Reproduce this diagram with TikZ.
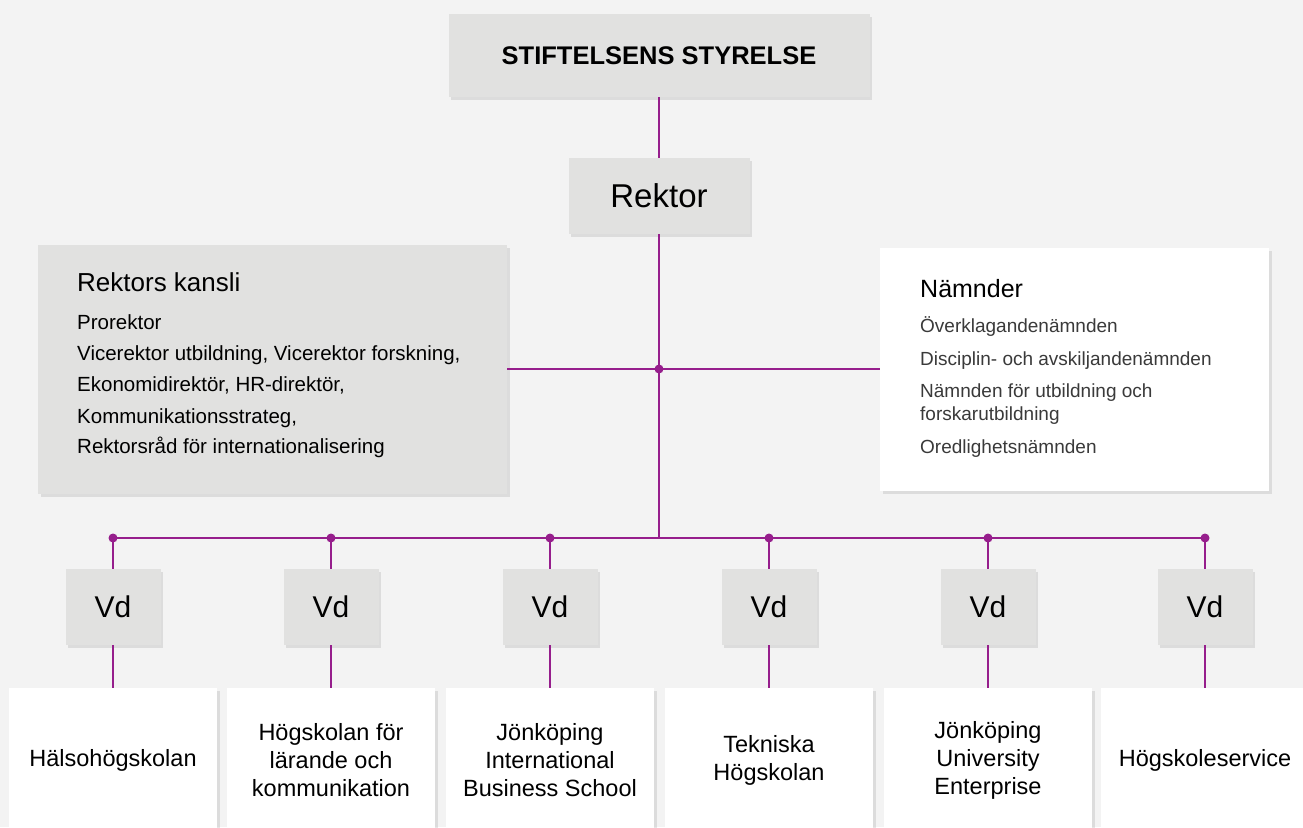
\documentclass[tikz,border=0pt]{standalone}
\usepackage{fontspec}
\setmainfont{Liberation Sans}
\usetikzlibrary{shadows}

\definecolor{bgcol}{HTML}{F3F3F3}
\definecolor{boxgray}{HTML}{E1E1E0}
\definecolor{orgpurple}{RGB}{150,30,140}
\definecolor{itemgray}{HTML}{3A3A3A}

\tikzset{
  box/.style={fill=boxgray, inner sep=0pt, align=center,
    drop shadow={shadow xshift=2.5pt, shadow yshift=-3pt, opacity=0.2}},
  whitebox/.style={box, fill=white},
  orgline/.style={draw=orgpurple, line width=2.5pt},
  lbl/.style={anchor=base west, inner sep=0pt},
  vdbox/.style={box, minimum width=95pt, minimum height=76pt, font=\fontsize{30}{32}\selectfont},
  unitbox/.style={whitebox, minimum width=208pt, minimum height=144pt, font=\fontsize{23.5}{28}\selectfont}
}

\begin{document}
\begin{tikzpicture}[x=1pt,y=-1pt]
  \useasboundingbox (0,0) rectangle (1303,827);
  \clip (0,0) rectangle (1303,827);
  \fill[bgcol] (0,0) rectangle (1303,827);

  % top of the tree
  \node[box, minimum width=421pt, minimum height=83pt, font=\fontsize{25.5}{28}\selectfont\bfseries] (styrelse) at (659,55.5) {STIFTELSENS STYRELSE};
  \node[box, minimum width=181pt, minimum height=76pt, font=\fontsize{33}{35}\selectfont] (rektor) at (659,196) {Rektor};

  % side boxes
  \node[box, minimum width=469pt, minimum height=249pt] (kansli) at (272.5,369) {};
  \node[whitebox, minimum width=389pt, minimum height=243pt] (namnder) at (1074.5,369) {};

  \node[lbl, font=\fontsize{26}{28}\selectfont] (kansliT) at (77,291) {Rektors kansli};
  \foreach \y/\t [count=\i] in {329/Prorektor, 360/{Vicerektor utbildning, Vicerektor forskning,},
      391/{Ekonomidirektör, HR-direktör,}, 423/{Kommunikationsstrateg,}, 453/Rektorsråd för internationalisering}
    \node[lbl, font=\fontsize{20.5}{22}\selectfont] (kansli\i) at (77,\y) {\t};

  \node[lbl, font=\fontsize{25}{28}\selectfont] (namnderT) at (920,297) {Nämnder};
  \foreach \y/\t [count=\i] in {332/Överklagandenämnden, 365/Disciplin- och avskiljandenämnden,
      397/Nämnden för utbildning och, 420/forskarutbildning, 453/Oredlighetsnämnden}
    \node[lbl, text=itemgray, font=\fontsize{19}{21}\selectfont] (namnder\i) at (920,\y) {\t};

  % connectors in the middle
  \coordinate (hub) at (659,369);
  \coordinate (bus) at (659,538);
  \draw[orgline] (styrelse) -- (rektor);
  \draw[orgline] (rektor) -- (bus);
  \draw[orgline] (kansli) -- (namnder);
  \fill[orgpurple] (hub) circle (4.5);

  % the six units
  \foreach \x/\t [count=\i] in {113/Hälsohögskolan, 331/{Högskolan för\\lärande och\\kommunikation},
      550/{Jönköping\\International\\Business School}, 769/{Tekniska\\Högskolan},
      988/{Jönköping\\University\\Enterprise}, 1205/Högskoleservice} {
    \coordinate (b\i) at (\x,538);
    \node[vdbox] (vd\i) at (\x,607) {Vd};
    \node[unitbox] (unit\i) at (\x,760) {\t};
    \draw[orgline] (b\i) -- (vd\i) (vd\i) -- (unit\i);
    \fill[orgpurple] (b\i) circle (4.5);
  }
  \draw[orgline] (b1) -- (b6);
\end{tikzpicture}
\end{document}
